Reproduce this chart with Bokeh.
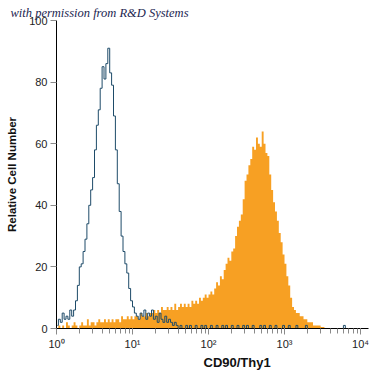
import numpy as np
from bokeh.plotting import figure
from bokeh.models import Title, FixedTicker
from bokeh.embed import file_html
from bokeh.resources import INLINE

# histogram bins: 0.025 decade wide, starting at 10^0
BIN_WIDTH_DECADES = 0.025

# isotype control (blue outline)
blue_counts = [
    1, 3, 2, 5, 3, 4, 3, 6, 4, 6,
    9, 14, 20, 21, 25, 29, 34, 40, 45, 49,
    58, 66, 71, 78, 85, 81, 86, 91, 83, 79,
    69, 58, 47, 38, 30, 25, 21, 18, 13, 9,
    7, 5, 4, 3, 5, 4, 6, 3, 5, 4,
    6, 3, 4, 2, 5, 3, 2, 4, 2, 3,
    2, 1, 2, 1, 0, 1, 0, 0, 1, 0,
    1, 0, 0, 1, 0, 0, 1, 0, 1, 0,
    0, 1, 0, 0, 1, 0, 0, 1, 0, 1,
    0, 0, 1, 0, 0, 1, 0, 0, 1, 0,
    1, 0, 0, 1, 0, 0, 0, 1, 0, 1,
    0, 0, 1, 0, 0, 1, 0, 0, 0, 1,
    0, 0, 1, 0, 0, 0, 1, 0, 0, 0,
    0, 1, 0, 0, 0, 0, 0, 0, 0, 0,
    0, 0, 0, 0, 0, 0, 0, 0, 0, 0,
    0, 1, 0, 0, 0, 0, 0, 0, 0, 0,
    0, 0, 0, 0,
]

# CD90/Thy1 stained (orange fill)
orange_counts = [
    0, 1, 0, 1, 0, 2, 1, 0, 1, 2,
    1, 0, 1, 2, 1, 1, 3, 1, 2, 2,
    1, 2, 3, 2, 2, 3, 2, 3, 2, 3,
    2, 3, 3, 2, 4, 3, 3, 4, 3, 4,
    3, 4, 4, 3, 5, 4, 4, 5, 4, 5,
    5, 6, 5, 6, 5, 7, 6, 6, 7, 6,
    7, 6, 8, 6, 7, 8, 7, 8, 7, 8,
    7, 9, 8, 9, 8, 10, 9, 10, 11, 10,
    11, 12, 11, 13, 15, 14, 17, 16, 19, 21,
    23, 22, 25, 26, 30, 33, 35, 37, 42, 48,
    50, 53, 55, 59, 58, 62, 60, 59, 64, 60,
    57, 56, 50, 45, 41, 38, 35, 31, 28, 24,
    21, 17, 14, 10, 7, 6, 5, 5, 4, 4,
    3, 3, 2, 2, 2, 1, 1, 1, 1, 0.5,
    0.5, 0, 0, 0, 0, 0, 0, 0, 0, 0,
    0, 0, 0, 0, 0, 0, 0, 0, 0, 0,
    0, 0, 0, 0,
]

y_ticks = [0, 20, 40, 60, 80, 100]
x_tick_labels = {1: "10⁰", 10: "10¹", 100: "10²", 1000: "10³", 10000: "10⁴"}
x_label = "CD90/Thy1"
y_label = "Relative Cell Number"
credit = "with permission from R&D Systems"

BLUE = "#1e4b69"
ORANGE = "#f7a023"
SANS = "Liberation Sans"

n = len(blue_counts)
edges = np.arange(n + 1) * BIN_WIDTH_DECADES
centers = 10 ** ((edges[:-1] + edges[1:]) / 2)

p = figure(width=370, height=374, x_axis_type="log",
           x_range=(1, 10 ** 4.105), y_range=(0, 100),
           output_backend="svg", toolbar_location=None,
           min_border_left=56, min_border_right=2,
           min_border_top=20, min_border_bottom=46)
p.outline_line_color = None
p.grid.visible = False
p.background_fill_color = "white"

# credit line as the title
p.title.text = credit
p.title.align = "left"
p.title.offset = -46
p.title.standoff = 1
p.title.text_font = "Liberation Serif"
p.title.text_font_style = "italic"
p.title.text_font_size = "12.5px"
p.title.text_color = "#1b2550"

p.varea_step(x=centers, y1=np.zeros(n), y2=orange_counts, step_mode="center",
             fill_color=ORANGE)
p.step(x=centers, y=blue_counts, mode="center", line_color=BLUE, line_width=1)

# axes
xa = p.xaxis[0]
xa.major_label_overrides = x_tick_labels
xa.axis_line_color = "black"
xa.major_tick_line_color = "#8a8a8a"
xa.minor_tick_line_color = "#8a8a8a"
xa.major_tick_in = 0
xa.major_tick_out = 6
xa.minor_tick_in = 0
xa.minor_tick_out = 5
xa.major_label_standoff = 3
xa.major_label_text_font = SANS
xa.major_label_text_font_size = "11px"
xa.major_label_text_color = "#222222"

ya = p.yaxis[0]
ya.ticker = FixedTicker(ticks=y_ticks)
ya.axis_line_color = "black"
ya.major_tick_line_color = "#8a8a8a"
ya.major_tick_in = 0
ya.major_tick_out = 6
ya.minor_tick_line_color = None
ya.major_label_standoff = 3
ya.major_label_text_font = SANS
ya.major_label_text_font_size = "11px"
ya.major_label_text_color = "#222222"
ya.axis_label = y_label
ya.axis_label_text_font = SANS
ya.axis_label_text_font_style = "bold"
ya.axis_label_text_font_size = "11.5px"
ya.axis_label_text_color = "#111111"
ya.axis_label_standoff = 8

# x-axis title placed below the axis, offset to where the reference shows it
p.add_layout(Title(text=x_label, align="left", offset=147, standoff=0,
                   text_font=SANS, text_font_style="bold",
                   text_font_size="13px", text_color="#111111"), "below")

open("out.html", "w").write(file_html(p, INLINE))
